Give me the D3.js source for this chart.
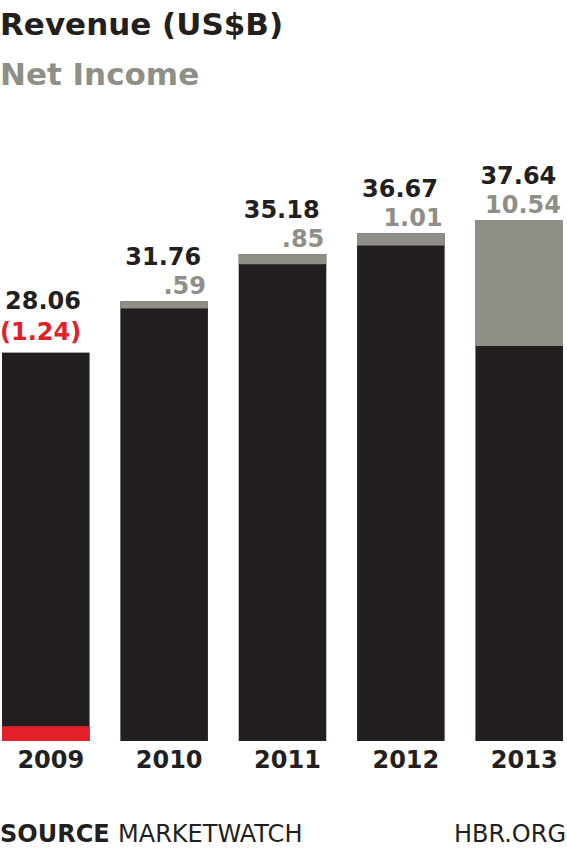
<!DOCTYPE html>
<html>
<head>
<meta charset="utf-8">
<script src="https://cdn.jsdelivr.net/npm/d3@7"></script>
<style>
  body { margin: 0; background: #fff; }
  text { font-family: "DejaVu Sans", sans-serif; }
</style>
</head>
<body>
<svg id="chart" width="567" height="850"></svg>
<script>
const years = ["2009", "2010", "2011", "2012", "2013"];
const revenue = [28.06, 31.76, 35.18, 36.67, 37.64];
const netIncome = [-1.24, 0.59, 0.85, 1.01, 10.54];
const netLabels = ["(1.24)", ".59", ".85", "1.01", "10.54"];

const black = "#231f20", gray = "#8f8f87", red = "#e3202a";
const svg = d3.select("#chart");

const x = d3.scaleBand().domain(years).range([2, 563]).paddingInner(0.26).paddingOuter(0);
const y = d3.scaleLinear().domain([0, 37.64]).range([741, 220]);
// net income segments are drawn a little smaller than revenue in the original
const yNet = d3.scaleLinear().domain([0, 10.54]).range([0, 126]);
const h = v => yNet(Math.abs(v));

// titles
svg.append("text").attr("x", 0).attr("y", 35).attr("font-size", 31).attr("font-weight", "bold")
  .attr("fill", black).text("Revenue (US$B)");
svg.append("text").attr("x", 0).attr("y", 85).attr("font-size", 31).attr("font-weight", "bold")
  .attr("fill", gray).text("Net Income");

const g = svg.selectAll(".yr").data(years).enter().append("g");

g.append("rect")
  .attr("x", d => x(d)).attr("width", x.bandwidth())
  .attr("y", (d, i) => y(revenue[i])).attr("height", (d, i) => y(0) - y(revenue[i]))
  .attr("fill", black);

g.append("rect")
  .attr("x", d => x(d)).attr("width", x.bandwidth())
  .attr("y", (d, i) => netIncome[i] < 0 ? y(0) - h(netIncome[i]) : y(revenue[i]))
  .attr("height", (d, i) => h(netIncome[i]))
  .attr("fill", (d, i) => netIncome[i] < 0 ? red : gray);

g.append("text")
  .attr("x", (d, i) => i === 0 ? 5 : x(d) + 5)
  .attr("y", (d, i) => y(revenue[i]) - (i === 0 ? 44 : 36))
  .attr("font-size", 24).attr("font-weight", "bold").attr("fill", black)
  .text((d, i) => revenue[i].toFixed(2));

g.append("text")
  .attr("x", (d, i) => i === 0 ? 0 : x(d) + x.bandwidth() - 2)
  .attr("text-anchor", (d, i) => i === 0 ? "start" : "end")
  .attr("y", (d, i) => y(revenue[i]) - (i === 0 ? 13 : 7))
  .attr("font-size", 24).attr("font-weight", "bold")
  .attr("fill", (d, i) => netIncome[i] < 0 ? red : gray)
  .text((d, i) => netLabels[i]);

g.append("text")
  .attr("x", d => x(d) + x.bandwidth() / 2 + 5).attr("y", 768)
  .attr("text-anchor", "middle").attr("font-size", 24).attr("font-weight", "bold")
  .attr("fill", black).text(d => d);

// footer
const f = svg.append("text").attr("x", 0).attr("y", 842).attr("font-size", 24).attr("fill", black);
f.append("tspan").attr("font-weight", "bold").text("SOURCE ");
f.append("tspan").text("MARKETWATCH");
svg.append("text").attr("x", 566).attr("y", 842).attr("text-anchor", "end")
  .attr("font-size", 24).attr("fill", black).text("HBR.ORG");
</script>
</body>
</html>
